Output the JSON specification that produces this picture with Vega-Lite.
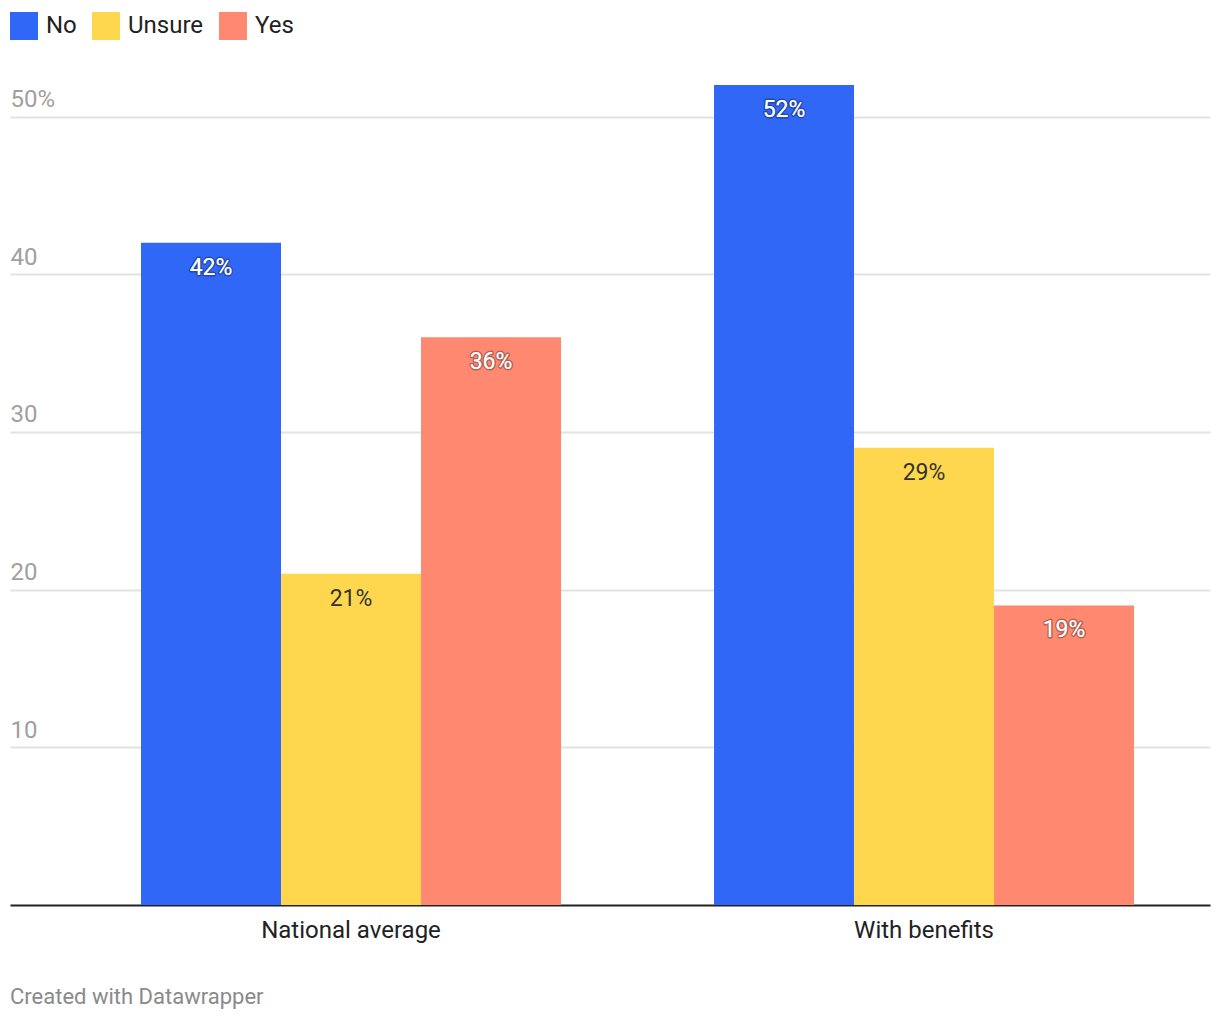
{
  "$schema": "https://vega.github.io/schema/vega-lite/v6.json",
  "width": 1200,
  "height": 820,
  "autosize": "none",
  "padding": {"left": 10, "top": 85, "right": 10, "bottom": 115},
  "background": "white",
  "config": {"font": "Roboto", "view": {"stroke": null}},
  "title": {
    "text": "Created with Datawrapper",
    "orient": "bottom",
    "anchor": "start",
    "frame": "group",
    "fontSize": 22,
    "fontWeight": "normal",
    "color": "#8a8a8a",
    "offset": 45
  },
  "data": {
    "values": [
      {"group": "National average", "answer": "No", "value": 42},
      {"group": "National average", "answer": "Unsure", "value": 21},
      {"group": "National average", "answer": "Yes", "value": 36},
      {"group": "With benefits", "answer": "No", "value": 52},
      {"group": "With benefits", "answer": "Unsure", "value": 29},
      {"group": "With benefits", "answer": "Yes", "value": 19}
    ]
  },
  "transform": [{"calculate": "datum.value + '%'", "as": "label"}],
  "encoding": {
    "x": {
      "field": "group",
      "type": "nominal",
      "sort": ["National average", "With benefits"],
      "scale": {"paddingInner": 0.267, "paddingOuter": 0.1806, "align": 0.633},
      "axis": {
        "title": null,
        "labelAngle": 0,
        "ticks": false,
        "labelPadding": 13,
        "labelFontSize": 24,
        "labelColor": "#222222",
        "domain": true,
        "domainColor": "#222222",
        "domainWidth": 2
      }
    },
    "xOffset": {
      "field": "answer",
      "type": "nominal",
      "sort": ["No", "Unsure", "Yes"],
      "scale": {"paddingInner": 0, "paddingOuter": 0}
    },
    "y": {
      "field": "value",
      "type": "quantitative",
      "scale": {"domain": [0, 52], "nice": false},
      "axis": {
        "title": null,
        "values": [10, 20, 30, 40, 50],
        "labelExpr": "datum.value == 50 ? '50%' : datum.label",
        "domain": false,
        "ticks": false,
        "labelAlign": "left",
        "labelPadding": 0,
        "labelBaseline": "alphabetic",
        "labelOffset": -10,
        "labelFontSize": 24,
        "labelColor": "#a0a0a0",
        "grid": true,
        "gridColor": "#e3e3e3",
        "gridWidth": 2
      }
    }
  },
  "layer": [
    {
      "mark": {"type": "bar"},
      "encoding": {
        "color": {
          "field": "answer",
          "type": "nominal",
          "scale": {"domain": ["No", "Unsure", "Yes"], "range": ["#3067f6", "#ffd74e", "#ff8870"]},
          "legend": {
            "orient": "none",
            "legendX": 0,
            "legendY": -73,
            "direction": "horizontal",
            "title": null,
            "symbolType": "square",
            "symbolSize": 784,
            "symbolStrokeWidth": 0,
            "symbolOpacity": 1,
            "labelFontSize": 24,
            "labelColor": "#222222",
            "labelOffset": 8,
            "columnPadding": 15
          }
        }
      }
    },
    {
      "transform": [{"filter": "datum.answer != 'Unsure'"}],
      "mark": {
        "type": "text",
        "baseline": "middle",
        "dy": 25,
        "fontSize": 23,
        "fill": "white",
        "stroke": "#000000",
        "strokeWidth": 3,
        "strokeOpacity": 0.3,
        "strokeJoin": "round"
      },
      "encoding": {"text": {"field": "label"}}
    },
    {
      "mark": {"type": "text", "baseline": "middle", "dy": 25, "fontSize": 23},
      "encoding": {
        "text": {"field": "label"},
        "color": {
          "condition": {"test": "datum.answer == 'Unsure'", "value": "#333333"},
          "value": "white"
        }
      }
    }
  ]
}
